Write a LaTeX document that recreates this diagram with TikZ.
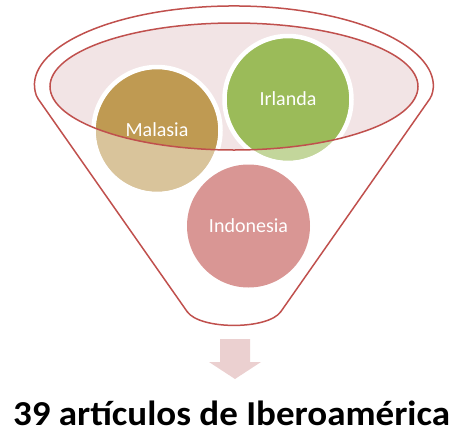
\documentclass[tikz,border=0pt]{standalone}
\usepackage{fontspec}
\setmainfont{Carlito}
\usepackage{graphicx}
\definecolor{fred}{HTML}{C0504D}
\definecolor{fpink}{HTML}{F2E4E5}
\definecolor{maldark}{HTML}{BF9A52}
\definecolor{mallight}{HTML}{D9C49B}
\definecolor{irldark}{HTML}{9BBB59}
\definecolor{irllight}{HTML}{C3D69B}
\definecolor{indo}{HTML}{D99694}
\definecolor{arrowc}{HTML}{EBD0D0}
\tikzset{
  funnelline/.style={draw=fred, line width=1.5pt},
  lbl/.style={text=white, font=\fontsize{20}{24}\selectfont, anchor=base, inner sep=0pt},
}
\begin{document}
\begin{tikzpicture}[x=1pt,y=-1pt]
\useasboundingbox (0,0) rectangle (456,432);
% outer funnel
\path[funnelline, rounded corners=2pt] (36.9,97.1) arc[start angle=188, end angle=-8, x radius=199pt, y radius=80pt]
  -- (282,310) .. controls (268,330) and (200,330) .. (186,310) -- cycle;
% inner ellipse fill
\coordinate (ec) at (234,86.5);
\fill[fpink] (ec) ellipse[x radius=184pt, y radius=63.5pt];
% circle centres
\coordinate (cm) at (157,130.5);
\coordinate (ci) at (288,99.5);
\coordinate (cd) at (248.5,226);
% light parts
\fill[mallight] (cm) circle (61.5pt);
\fill[irllight] (ci) circle (61.5pt);
% dark parts inside ellipse
\begin{scope}
  \clip (ec) ellipse[x radius=184pt, y radius=63.5pt];
  \fill[maldark] (cm) circle (61.5pt);
  \fill[irldark] (ci) circle (61.5pt);
\end{scope}
% white rings
\draw[white, line width=4.5pt] (cm) circle (63.5pt);
\draw[white, line width=4.5pt] (ci) circle (63.5pt);
% ellipse stroke
\draw[funnelline] (ec) ellipse[x radius=184pt, y radius=63.5pt];
% Indonesia
\fill[indo] (cd) circle (61.5pt);
% labels
\node[lbl] (tm) at (157,136.5) {Malasia};
\node[lbl] (ti) at (288,105.5) {Irlanda};
\node[lbl] (td) at (248.5,232) {Indonesia};
% arrow
\fill[arrowc] (220,339) -- (250,339) -- (250,362) -- (261,362) -- (235,379) -- (209,362) -- (220,362) -- cycle;
% bottom text
\node[anchor=base, inner sep=0pt, text depth=0pt] (title) at (231.5,425.5) {\resizebox{437pt}{\height}{\fontsize{35}{40}\selectfont\bfseries 39 artículos de Iberoamérica}};
\end{tikzpicture}
\end{document}
